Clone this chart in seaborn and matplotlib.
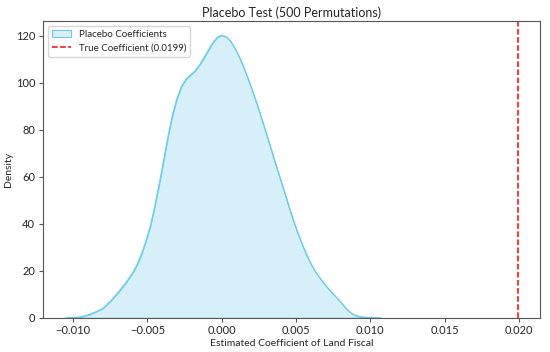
import numpy as np
import pandas as pd
import seaborn as sns
import matplotlib.pyplot as plt

# density curve of the placebo coefficients
coef_x = [-0.0105, -0.0100, -0.0095, -0.0090, -0.0085, -0.0080, -0.0075, -0.0070,
          -0.0065, -0.0060, -0.0057, -0.0054, -0.0051, -0.0048, -0.0045, -0.0042,
          -0.0039, -0.0036, -0.0033, -0.0030, -0.0027, -0.0024, -0.0021, -0.0018,
          -0.0015, -0.0012, -0.0009, -0.0006, -0.0003, 0.0000, 0.0003, 0.0006,
          0.0009, 0.0012, 0.0015, 0.0018, 0.0021, 0.0024, 0.0027, 0.0030,
          0.0033, 0.0036, 0.0039, 0.0042, 0.0045, 0.0048, 0.0051, 0.0054,
          0.0057, 0.0060, 0.0063, 0.0066, 0.0069, 0.0072, 0.0075, 0.0078,
          0.0081, 0.0084, 0.0087, 0.0090, 0.0094, 0.0100, 0.0107]
densidade = [0.0, 0.1, 0.4, 1.2, 2.5, 4.0, 7.0, 10.5,
             14.5, 19.0, 22.5, 27.0, 32.5, 39.0, 47.5, 57.0,
             67.0, 77.5, 86.5, 93.5, 98.5, 101.5, 103.3, 105.0,
             107.5, 110.5, 113.8, 117.0, 119.3, 120.2, 119.6, 117.7,
             114.6, 110.8, 106.3, 101.3, 96.0, 90.5, 84.5, 78.5,
             72.3, 66.0, 60.0, 54.0, 47.8, 41.8, 36.5, 31.5,
             27.0, 23.0, 19.7, 17.0, 14.5, 12.3, 10.2, 8.2,
             6.0, 3.8, 2.1, 1.0, 0.4, 0.1, 0.0]
true_coef = 0.0199

dados = pd.DataFrame({'coef': coef_x, 'density': densidade})

sns.set_style('ticks')
plt.rcParams['font.family'] = ['Lato', 'DejaVu Sans']

fig, ax = plt.subplots(figsize=(5.5, 3.52), dpi=100)
fig.subplots_adjust(left=0.078, right=0.982, top=0.94, bottom=0.097)

cor_linha = '#6ccbea'
cor_fill = '#d6eff8'
#preenchimento + contorno
ax.fill_between(dados['coef'], dados['density'], facecolor=cor_fill,
                edgecolor=cor_linha, linewidth=0.8, label='Placebo Coefficients')
sns.lineplot(data=dados, x='coef', y='density', color=cor_linha, linewidth=0.8, ax=ax)
ax.axvline(true_coef, color='red', linestyle='--', linewidth=1.1,
           label=f'True Coefficient ({true_coef})')

ax.set_ylim(0, None)
ax.set_title('Placebo Test (500 Permutations)', fontsize=9, pad=3)
ax.set_xlabel('Estimated Coefficient of Land Fiscal', fontsize=7.5, labelpad=2)
ax.set_ylabel('Density', fontsize=7.5, labelpad=2)
ax.tick_params(labelsize=8, color='#555555', length=3, pad=2.5)
for s in ax.spines.values():
    s.set_color('#555555')
ax.legend(loc='upper left', fontsize=7)

plt.savefig('out.png', dpi=100)
